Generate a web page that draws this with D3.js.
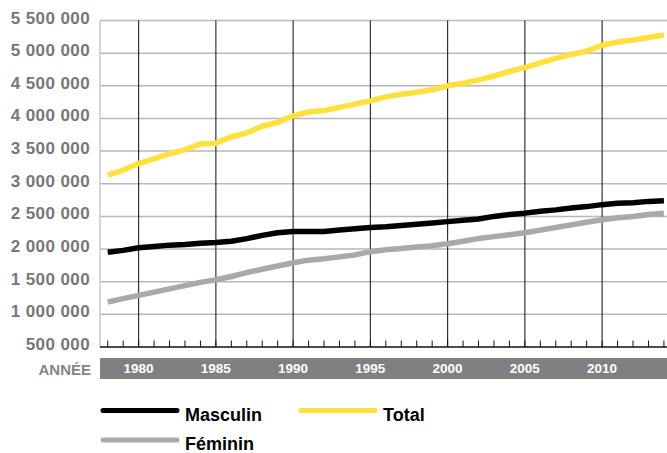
<!DOCTYPE html>
<html lang="fr">
<head>
<meta charset="utf-8">
<title>Population</title>
<script src="https://cdn.jsdelivr.net/npm/d3@7"></script>
<style>
  body { margin: 0; background: #fff; }
  svg { display: block; font-family: "Liberation Sans", Arial, sans-serif; }
  .ylab { fill: #777; font-size: 17px; font-weight: bold; }
  .xlab { fill: #fff; font-size: 13.5px; font-weight: bold; }
  .leg { fill: #000; font-size: 18px; font-weight: bold; }
</style>
</head>
<body>
<div id="chart"></div>
<script>
var years = d3.range(1978, 2015);

var masculin = [1950000, 1980000, 2020000, 2040000, 2060000, 2070000, 2090000, 2100000,
  2120000, 2160000, 2210000, 2250000, 2270000, 2270000, 2270000, 2290000, 2310000, 2330000,
  2340000, 2360000, 2380000, 2400000, 2420000, 2440000, 2460000, 2500000, 2530000, 2550000,
  2580000, 2600000, 2630000, 2650000, 2680000, 2700000, 2710000, 2730000, 2740000];

var feminin = [1190000, 1240000, 1290000, 1340000, 1390000, 1440000, 1490000, 1530000,
  1580000, 1640000, 1690000, 1740000, 1790000, 1830000, 1850000, 1880000, 1910000, 1960000,
  1990000, 2010000, 2030000, 2050000, 2080000, 2120000, 2160000, 2190000, 2220000, 2250000,
  2290000, 2330000, 2370000, 2410000, 2450000, 2480000, 2500000, 2530000, 2550000];

var total = [3130000, 3210000, 3310000, 3380000, 3460000, 3520000, 3610000, 3620000,
  3720000, 3780000, 3880000, 3940000, 4040000, 4100000, 4120000, 4170000, 4220000, 4270000,
  4330000, 4370000, 4400000, 4440000, 4500000, 4540000, 4590000, 4650000, 4720000, 4780000,
  4850000, 4920000, 4980000, 5030000, 5120000, 5170000, 5200000, 5240000, 5280000];

var yTicks = [500000, 1000000, 1500000, 2000000, 2500000, 3000000, 3500000, 4000000, 4500000, 5000000, 5500000];
var xLabels = [1980, 1985, 1990, 1995, 2000, 2005, 2010];

var series = [
  { name: "Masculin", values: masculin, color: "#000000" },
  { name: "Féminin", values: feminin, color: "#a9a9ac" },
  { name: "Total", values: total, color: "#ffe03c" }
];

var width = 667, height = 453;

var svg = d3.select("#chart").append("svg")
    .attr("width", width)
    .attr("height", height);

var x = d3.scaleLinear().domain([1977.5, 2014.2]).range([100, 667]);
var y = d3.scaleLinear().domain([500000, 5500000]).range([347, 20.5]);

var fmt = function(v) { return d3.format(",")(v).replace(/,/g, " "); };

// horizontal grid
svg.append("g").selectAll("line")
    .data(yTicks.slice(1))
  .enter().append("line")
    .attr("x1", 100).attr("x2", width)
    .attr("y1", function(d) { return y(d); })
    .attr("y2", function(d) { return y(d); })
    .attr("stroke", "#b8b8b8")
    .attr("stroke-width", 1.5);

// left border
svg.append("line")
    .attr("x1", 100).attr("x2", 100)
    .attr("y1", y(5500000)).attr("y2", y(500000))
    .attr("stroke", "#c8c8c8")
    .attr("stroke-width", 1.5);

// vertical grid every 5 years
svg.append("g").selectAll("line")
    .data(xLabels)
  .enter().append("line")
    .attr("x1", function(d) { return x(d); })
    .attr("x2", function(d) { return x(d); })
    .attr("y1", y(5500000)).attr("y2", y(500000))
    .attr("stroke", "#222")
    .attr("stroke-width", 1.1);

// year ticks
svg.append("g").selectAll("line")
    .data(years)
  .enter().append("line")
    .attr("x1", function(d) { return x(d); })
    .attr("x2", function(d) { return x(d); })
    .attr("y1", y(500000) - 6.5).attr("y2", y(500000))
    .attr("stroke", "#111")
    .attr("stroke-width", 1);

// bottom axis
svg.append("line")
    .attr("x1", 100).attr("x2", width)
    .attr("y1", y(500000)).attr("y2", y(500000))
    .attr("stroke", "#111")
    .attr("stroke-width", 1.5);

// y labels
svg.append("g").selectAll("text")
    .data(yTicks)
  .enter().append("text")
    .attr("class", "ylab")
    .attr("x", 90)
    .attr("y", function(d) { return y(d) + 3; })
    .attr("text-anchor", "end")
    .style("letter-spacing", "0.4px")
    .text(fmt);

// year band
svg.append("rect")
    .attr("x", 100).attr("y", 358)
    .attr("width", width - 100).attr("height", 21)
    .attr("fill", "#808083");

svg.append("g").selectAll("text")
    .data(xLabels)
  .enter().append("text")
    .attr("class", "xlab")
    .attr("x", function(d) { return x(d); })
    .attr("y", 373)
    .attr("text-anchor", "middle")
    .text(function(d) { return d; });

svg.append("text")
    .attr("x", 91).attr("y", 374.5)
    .attr("text-anchor", "end")
    .attr("fill", "#858585")
    .style("font-size", "15px")
    .style("font-weight", "bold")
    .text("ANNÉE");

// lines
var line = d3.line()
    .x(function(d, i) { return x(years[i]); })
    .y(function(d) { return y(d); });

svg.append("g").selectAll("path")
    .data(series)
  .enter().append("path")
    .attr("d", function(s) { return line(s.values); })
    .attr("fill", "none")
    .attr("stroke", function(s) { return s.color; })
    .attr("stroke-width", 5.5)
    .attr("stroke-linejoin", "round");

// legend
var legendPos = [
  { name: "Masculin", lx: 103, ly: 410.5 },
  { name: "Total", lx: 301, ly: 410.5 },
  { name: "Féminin", lx: 103, ly: 440 }
];

var leg = svg.append("g").selectAll("g")
    .data(legendPos)
  .enter().append("g");

leg.append("line")
    .attr("x1", function(d) { return d.lx; })
    .attr("x2", function(d) { return d.lx + 74; })
    .attr("y1", function(d) { return d.ly; })
    .attr("y2", function(d) { return d.ly; })
    .attr("stroke", function(d) { return series.find(function(s) { return s.name == d.name; }).color; })
    .attr("stroke-width", 5)
    .attr("stroke-linecap", "round");

leg.append("text")
    .attr("class", "leg")
    .attr("x", function(d) { return d.lx + 82; })
    .attr("y", function(d) { return d.ly + 10; })
    .text(function(d) { return d.name; });
</script>
</body>
</html>
